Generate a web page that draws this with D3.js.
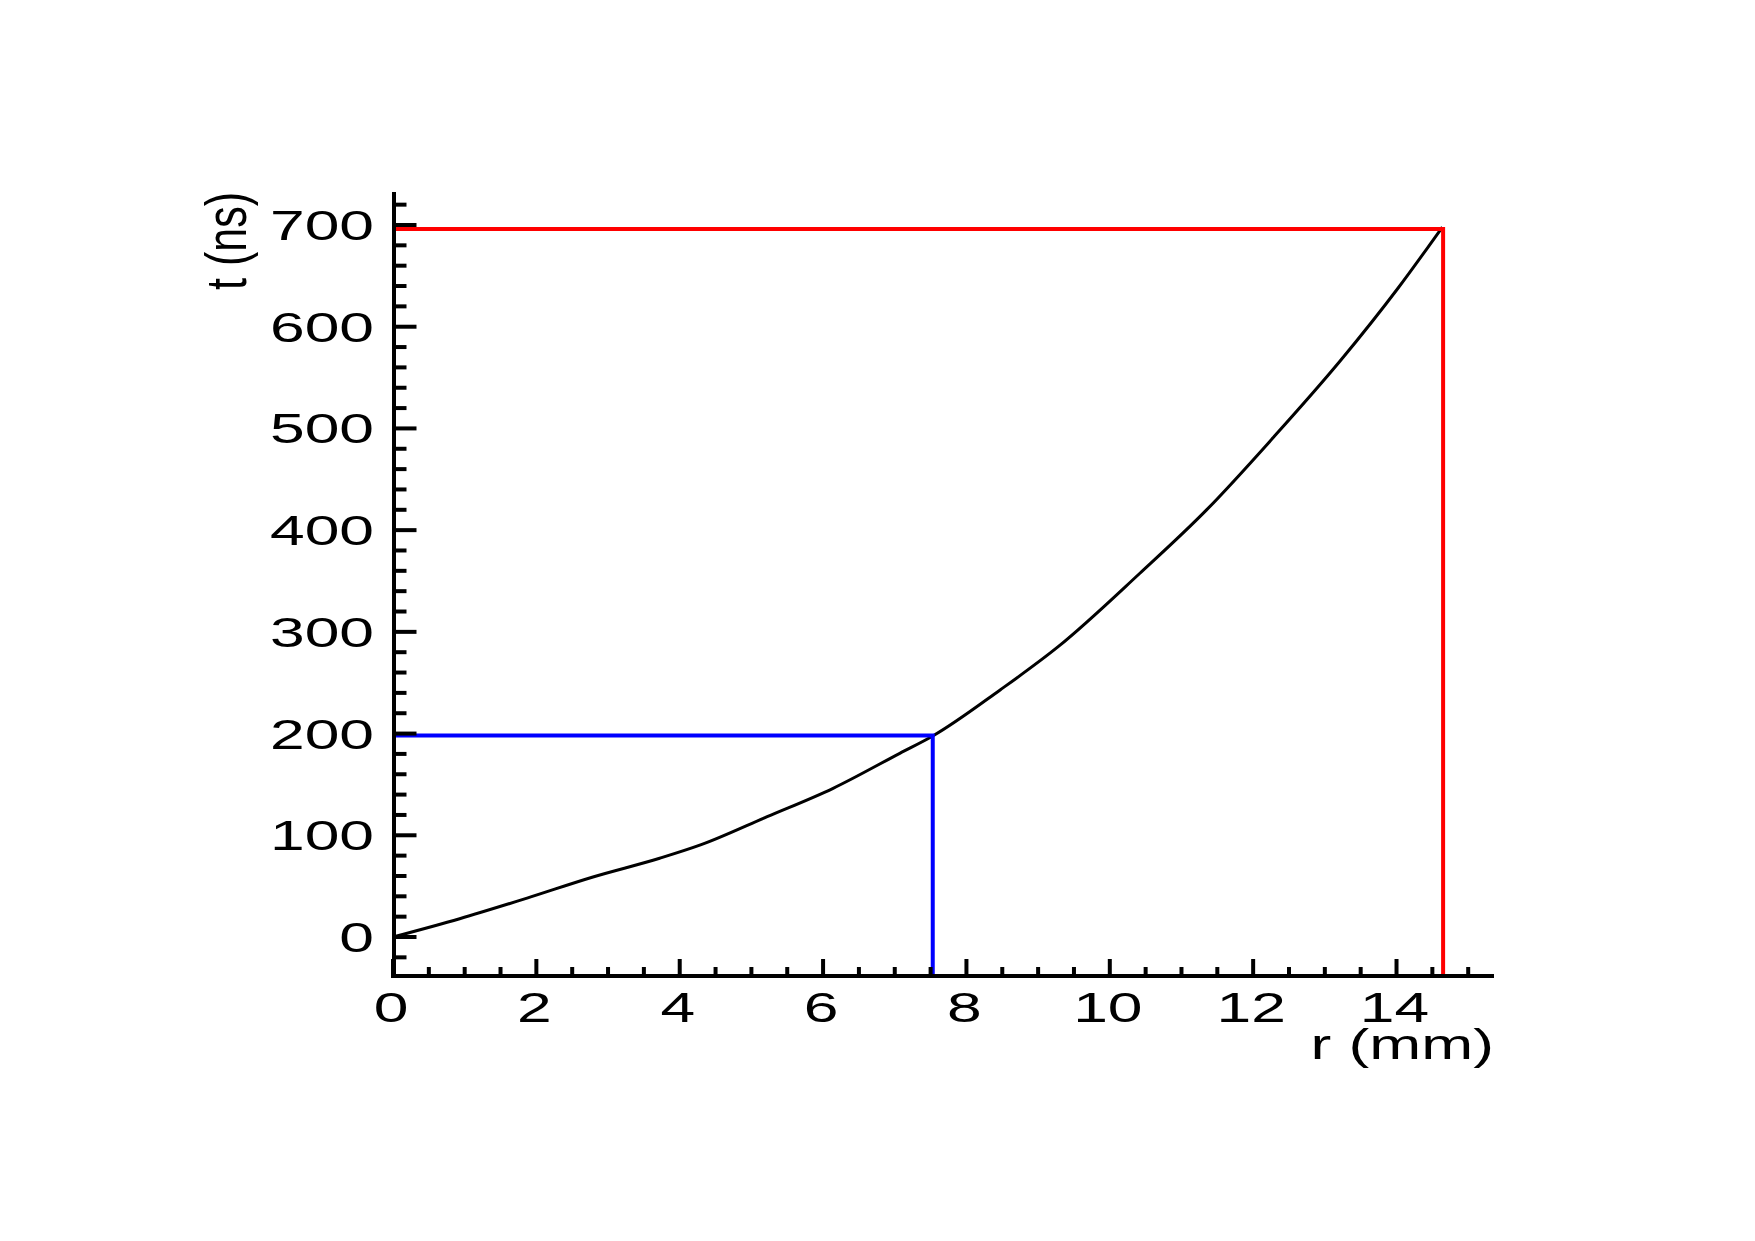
<!DOCTYPE html>
<html>
<head>
<meta charset="utf-8">
<script src="https://cdn.jsdelivr.net/npm/d3@7"></script>
<style>
  html, body { margin: 0; padding: 0; background: #fff; }
  svg { display: block; }
  text { font-family: "Liberation Sans", Arial, Helvetica, sans-serif; fill: #000; }
</style>
</head>
<body>
<script>
// ---- data ----
const rValues = [0, 0.93, 1.86, 2.79, 3.72, 4.29, 5.22, 6.14, 7.07, 7.53, 8.47, 9.28, 10.42, 11.35, 12.28, 13.21, 14.02, 14.64];
const tValues = [0, 18, 38, 59, 77.4, 90.5, 118.3, 146.2, 180.6, 197.6, 242.9, 285.4, 357.6, 419.9, 491, 566, 637.8, 698];
const xTickValues = [0, 2, 4, 6, 8, 10, 12, 14];
const yTickValues = [0, 100, 200, 300, 400, 500, 600, 700];
const xLabel = "r (mm)";
const yLabel = "t (ns)";
const redMark = { r: 14.65, t: 696 };
const blueMark = { r: 7.53, t: 198 };

// ---- layout ----
const W = 1755, H = 1241;
const SX = 1.45; // horizontal glyph stretch of the reference
const x = d3.scaleLinear().domain([0, 15.36]).range([393, 1494]);
const y = d3.scaleLinear().domain([0, 700]).range([937, 225]);
const yBottom = 976, yTop = 192;

const svg = d3.select("body").append("svg").attr("width", W).attr("height", H);
svg.append("rect").attr("width", W).attr("height", H).attr("fill", "#fff");

// curve
const pts = rValues.map((r, i) => [r, tValues[i]]);
svg.append("path")
  .datum(pts)
  .attr("fill", "none")
  .attr("stroke", "#000")
  .attr("stroke-width", 3)
  .attr("d", d3.line().x(d => x(d[0])).y(d => y(d[1])).curve(d3.curveMonotoneX));

// marker lines
function marker(m, color) {
  svg.append("path")
    .attr("fill", "none")
    .attr("stroke", color)
    .attr("stroke-width", 4)
    .attr("d", `M${x(0)},${y(m.t)}H${x(m.r)}V${yBottom}`);
}
marker(blueMark, "#0000ff");
marker(redMark, "#ff0000");

// x axis
const gx = svg.append("g").attr("transform", `translate(0,${yBottom})`);
gx.append("line").attr("x1", x(0) - 2).attr("x2", x.range()[1]).attr("y1", 0).attr("y2", 0)
  .attr("stroke", "#000").attr("stroke-width", 4);
const xMinor = d3.range(0, 15.01, 0.5).filter(v => !xTickValues.includes(v));
gx.selectAll(".xmin").data(xMinor).enter().append("line")
  .attr("x1", d => x(d)).attr("x2", d => x(d)).attr("y1", 0).attr("y2", -9)
  .attr("stroke", "#000").attr("stroke-width", 4);
gx.selectAll(".xmaj").data(xTickValues).enter().append("line")
  .attr("x1", d => x(d)).attr("x2", d => x(d)).attr("y1", 0).attr("y2", -17)
  .attr("stroke", "#000").attr("stroke-width", 4);
svg.selectAll(".xlab").data(xTickValues).enter().append("text")
  .attr("transform", d => `translate(${x(d) - 2},1022) scale(${SX},1)`)
  .attr("text-anchor", "middle")
  .attr("font-size", 43)
  .text(d => d);
svg.append("text")
  .attr("transform", `translate(1494,1059) scale(${SX},1)`)
  .attr("text-anchor", "end")
  .attr("font-size", 43)
  .text(xLabel);

// y axis
const gy = svg.append("g").attr("transform", `translate(394,0)`);
gy.append("line").attr("x1", 0).attr("x2", 0).attr("y1", yTop).attr("y2", yBottom + 2)
  .attr("stroke", "#000").attr("stroke-width", 4);
const yMinor = d3.range(-20, 720.1, 20).filter(v => !yTickValues.includes(v));
gy.selectAll(".ymin").data(yMinor).enter().append("line")
  .attr("x1", 0).attr("x2", 12.5).attr("y1", d => y(d)).attr("y2", d => y(d))
  .attr("stroke", "#000").attr("stroke-width", 4);
gy.selectAll(".ymaj").data(yTickValues).enter().append("line")
  .attr("x1", 0).attr("x2", 22.5).attr("y1", d => y(d)).attr("y2", d => y(d))
  .attr("stroke", "#000").attr("stroke-width", 4);
svg.selectAll(".ylab").data(yTickValues).enter().append("text")
  .attr("transform", d => `translate(374,${y(d) + 15}) scale(${SX},1)`)
  .attr("text-anchor", "end")
  .attr("font-size", 43)
  .text(d => d);
svg.append("text")
  .attr("transform", `translate(246,192) scale(${SX - 0.1},1) rotate(-90)`)
  .attr("text-anchor", "end")
  .attr("font-size", 43)
  .text(yLabel);
</script>
</body>
</html>
